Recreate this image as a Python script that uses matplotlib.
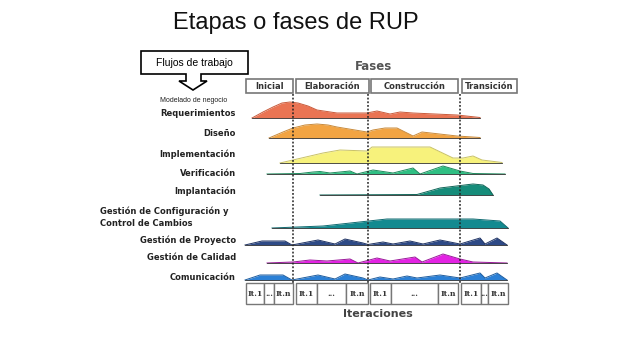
import numpy as np
from matplotlib import pyplot as plt
from matplotlib.patches import Rectangle, Polygon

# the picture is laid out in pixel units (x right, y down)
titulo = "Etapas o fases de RUP"

fases = ["Inicial", "Elaboración", "Construcción", "Transición"]
fase_x0 = [246, 296, 371, 462]
fase_x1 = [293, 369, 458, 517]
limites = [293, 368, 460]

# workflow profiles: x positions and heights above each baseline
req_x = [252, 263, 273, 282, 290, 298, 308, 317, 337, 367, 377, 390, 400, 413, 457, 480]
req_h = [0, 6, 11, 15, 16, 15, 12, 8, 5, 5, 7, 4, 6, 5, 3, 0.5]

dis_x = [269, 283, 293, 305, 317, 328, 337, 367, 373, 385, 397, 413, 422, 457, 480]
dis_h = [0, 6, 10, 13, 14, 13, 11, 6, 8, 10, 10, 2, 6, 2, 0.5]

imp_x = [280, 323, 340, 367, 372, 430, 453, 463, 473, 482, 502]
imp_h = [0, 10, 13, 12, 16, 16, 5, 5, 7, 3, 0.5]

ver_x = [267, 300, 313, 320, 330, 350, 357, 373, 393, 413, 420, 443, 460, 473, 505]
ver_h = [0, 0.5, 2, 2.5, 1, 3, 0, 4, 1, 6, 0, 8, 3, 0.5, 0]

imt_x = [320, 417, 440, 473, 483, 489, 493]
imt_h = [0, 0.5, 7, 11, 10, 6, 0]

cfg_x = [272, 323, 387, 473, 500, 508]
cfg_h = [0, 2, 9, 9, 7, 0]

pry_x = [245, 262, 285, 292, 318, 335, 345, 363, 368, 383, 393, 410, 423, 440, 460, 480, 485, 497, 507]
pry_h = [0, 4, 4, 0, 5, 1, 6, 2, 0.5, 3, 1, 4, 1, 5, 1, 7, 1, 7, 0]

cal_x = [267, 293, 310, 327, 350, 358, 377, 390, 415, 422, 443, 460, 473, 507]
cal_h = [0, 1, 3, 2, 4, 0, 5, 2, 6, 1, 9, 4, 1, 0]

com_x = [245, 260, 283, 292, 318, 335, 345, 363, 368, 380, 393, 407, 417, 440, 460, 480, 485, 497, 507]
com_h = [0, 5, 5, 0, 5, 1, 6, 2, 0, 3, 1, 4, 2, 5, 2, 7, 2, 7, 0]

perfiles_x = [req_x, dis_x, imp_x, ver_x, imt_x, cfg_x, pry_x, cal_x, com_x]
perfiles_h = [req_h, dis_h, imp_h, ver_h, imt_h, cfg_h, pry_h, cal_h, com_h]
bases = [118, 138, 163, 174, 195, 228, 245, 263, 280]
colores = ["#ea7453", "#f2a443", "#f7f27c", "#2fbf83", "#168c7a",
           "#138a90", "#2e4a86", "#e322e3", "#2b80d6"]
bordes = ["#c95a3a", "#c98a3a", "#c9c266", "#1d8a5c", "#0f6658",
          "#0e6a70", "#1f3364", "#9a189a", "#1d5c9e"]

flujos = ["Requerimientos", "Diseño", "Implementación", "Verificación",
          "Implantación", "Gestión de Configuración y\nControl de Cambios",
          "Gestión de Proyecto", "Gestión de Calidad", "Comunicación"]
flujos_y = [113, 133, 154, 173, 191, 217, 240, 258, 277]

# iteration cells per phase
iter_x0 = [246, 264, 274, 296, 317, 346, 370, 391, 438, 461, 481, 488]
iter_x1 = [264, 274, 293, 317, 346, 368, 391, 438, 458, 481, 488, 508]
iter_txt = ["It.1", "...", "It.n", "It.1", "...", "It.n",
            "It.1", "...", "It.n", "It.1", "...", "It.n"]

fig = plt.figure(figsize=(6.38, 3.59), dpi=100)
ax = fig.add_axes([0, 0, 1, 1])
ax.set_xlim(0, 638)
ax.set_ylim(359, 0)
ax.axis("off")

ax.text(296, 23, titulo, ha="center", va="center", fontsize=17,
        family="Liberation Sans", color="#111")

# callout "Flujos de trabajo"
caja = Polygon([(141, 51), (248, 51), (248, 74), (201, 74), (201, 81),
                (207, 81), (193, 90), (179, 81), (186, 81), (186, 74),
                (141, 74)], closed=True, fc="white", ec="black", lw=1.2)
ax.add_patch(caja)
ax.text(194, 62.5, "Flujos de trabajo", ha="center", va="center",
        fontsize=7.5, family="Liberation Sans")
ax.text(194, 100, "Modelado de negocio", ha="center", va="center",
        fontsize=5, family="Liberation Sans", color="#222")

ax.text(373, 66, "Fases", ha="center", va="center", fontsize=8.5,
        fontweight="bold", color="#555")
for nombre, x0, x1 in zip(fases, fase_x0, fase_x1):
    ax.add_patch(Rectangle((x0, 79), x1 - x0, 14, fc="white", ec="#777", lw=1.2))
    ax.text((x0 + x1) / 2, 86.5, nombre, ha="center", va="center",
            fontsize=6, fontweight="bold", color="#333")

for px, ph, b, c, e in zip(perfiles_x, perfiles_h, bases, colores, bordes):
    px = np.array(px)
    top = b - np.array(ph)
    ax.fill_between(px, b, top, color=c, lw=0, zorder=2)
    ax.plot(px, top, color=e, lw=0.7, zorder=3)
    ax.plot([px[0], px[-1]], [b, b], color="#333", lw=0.6, zorder=3)

for nombre, y in zip(flujos, flujos_y):
    if "\n" in nombre:
        ax.text(100, y, nombre, ha="left", va="center", fontsize=6,
                fontweight="bold", color="#222", linespacing=1.5)
    else:
        ax.text(236, y, nombre, ha="right", va="center", fontsize=6,
                fontweight="bold", color="#222")

for xl in limites:
    ax.plot([xl, xl], [94, 283], color="#222", lw=1.1, ls=(0, (1.2, 1.2)), zorder=4)

for x0, x1, t in zip(iter_x0, iter_x1, iter_txt):
    ax.add_patch(Rectangle((x0, 283), x1 - x0, 21, fc="white", ec="#777", lw=1))
    ax.text((x0 + x1) / 2, 293.5, t, ha="center", va="center", fontsize=5.5,
            fontweight="bold", family="DejaVu Serif", color="#333")

ax.text(378, 314, "Iteraciones", ha="center", va="center", fontsize=8,
        fontweight="bold", color="#444")

fig.savefig("out.png", dpi=100)
